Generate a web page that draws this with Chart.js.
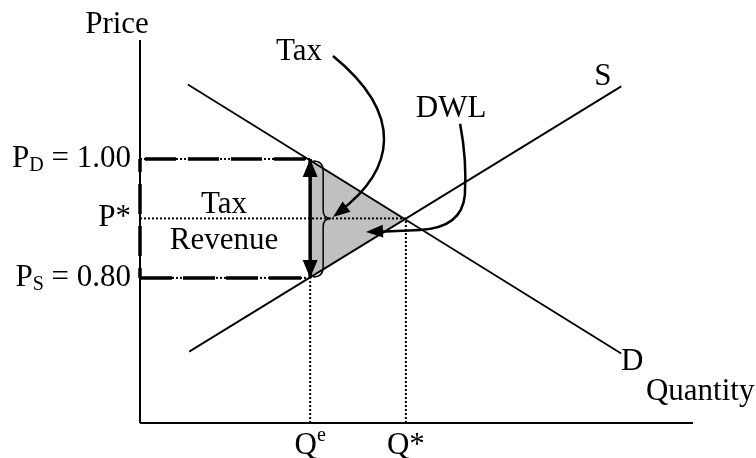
<!DOCTYPE html>
<html>
<head>
<meta charset="utf-8">
<script src="https://cdn.jsdelivr.net/npm/chart.js@4/dist/chart.umd.min.js"></script>
<style>
html, body { margin: 0; padding: 0; background: #fff; }
#wrap { width: 756px; height: 458px; position: relative; }
</style>
</head>
<body>
<div id="wrap"><canvas id="taxChart"></canvas></div>
<script>
// axis ranges (quantity, price)
const qRange = [0, 20.8];
const pRange = [0.556, 1.2];

// demand and supply lines
const demandQ = [1.8, 18.1];
const demandP = [1.125, 0.673];
const supplyQ = [1.85, 18.1];
const supplyP = [0.676, 1.122];

// key values
const qTax = 6.4;     // Qe
const qStar = 10;     // Q*
const pBuyer = 1.00;  // PD
const pStar = 0.90;   // P*
const pSeller = 0.80; // PS

// tick labels (_x = subscript, ^x = superscript)
const priceTicks = [1.00, 0.90, 0.80];
const priceTickLabels = ['P_D = 1.00', 'P*', 'P_S = 0.80'];
const qtyTicks = [6.4, 10];
const qtyTickLabels = ['Q^e', 'Q*'];

const FONT = "'Liberation Serif', 'Times New Roman', serif";

function pts(xs, ys) {
  return xs.map((x, i) => ({ x: x, y: ys[i] }));
}

function line(data, width, dash, extra) {
  return Object.assign({
    data: data,
    borderColor: '#000',
    borderWidth: width,
    borderDash: dash || [],
    pointRadius: 0,
    fill: false,
    tension: 0,
    clip: false
  }, extra || {});
}

const datasets = [
  // axes
  line(pts([0, 0], pRange), 2),
  line(pts(qRange, [pRange[0], pRange[0]]), 2),
  // demand / supply
  line(pts(demandQ, demandP), 1.8),
  line(pts(supplyQ, supplyP), 1.8),
  // tax revenue box (thick dashed)
  line(pts([0, qTax], [pBuyer, pBuyer]), 3.5, [31, 12], { borderDashOffset: 38 }),
  line(pts([0, qTax], [pSeller, pSeller]), 3.5, [32, 11]),
  line(pts([0, 0], [pSeller, pBuyer]), 3.5, [30, 12], { borderDashOffset: 20 }),
  // dotted guides
  line(pts([0, qTax], [pBuyer, pBuyer]), 2, [2, 2]),
  line(pts([0, qTax], [pSeller, pSeller]), 2, [2, 2]),
  line(pts([0, qStar], [pStar, pStar]), 2, [2, 2]),
  line(pts([qTax, qTax], [pRange[0], pSeller]), 2, [2, 2]),
  line(pts([qStar, qStar], [pRange[0], pStar]), 2, [2, 2]),
  // tax arrow shaft
  line(pts([qTax, qTax], [pSeller, pBuyer]), 3.5),
  // deadweight loss triangle
  line(pts([qTax, qStar, qTax, qTax], [pBuyer, pStar, pSeller, pBuyer]), 0, [],
    { fill: 'shape', backgroundColor: '#c0c0c0' })
];

// curved arrows in data units
const taxArrow = [[7.26, 1.173], [9.97, 1.074], [9.59, 0.982], [7.26, 0.9025]];
const dwlArrow = [[12.04, 1.059], [12.30, 0.998], [12.22, 0.9395], [12.11, 0.884], [10.53, 0.8807], [8.50, 0.8773]];

// free text labels in data units
const labels = [
  { t: 'Tax', q: 5.98, p: 1.1664, a: 'center' },
  { t: 'DWL', q: 11.70, p: 1.0706, a: 'center' },
  { t: 'S', q: 17.41, p: 1.1244, a: 'center' },
  { t: 'D', q: 18.51, p: 0.6454, a: 'center' },
  { t: 'Quantity', q: 19.03, p: 0.595, a: 'left' },
  { t: 'Tax', q: 3.16, p: 0.9092, a: 'center' },
  { t: 'Revenue', q: 3.16, p: 0.8487, a: 'center' }
];

function parts(str) {
  const out = [];
  let buf = '';
  for (let i = 0; i < str.length; i++) {
    const c = str[i];
    if ((c === '_' || c === '^') && i + 1 < str.length) {
      if (buf) out.push({ s: buf, k: 'n' });
      buf = '';
      out.push({ s: str[i + 1], k: c === '_' ? 'sub' : 'sup' });
      i++;
    } else {
      buf += c;
    }
  }
  if (buf) out.push({ s: buf, k: 'n' });
  return out;
}

function richText(ctx, str, x, y, align) {
  const segs = parts(str);
  const big = '31px ' + FONT, small = '20px ' + FONT;
  let w = 0;
  segs.forEach(s => {
    ctx.font = s.k === 'n' ? big : small;
    s.w = ctx.measureText(s.s).width;
    w += s.w;
  });
  let cx = align === 'right' ? x - w : align === 'center' ? x - w / 2 : x;
  ctx.textAlign = 'left';
  ctx.textBaseline = 'alphabetic';
  segs.forEach(s => {
    ctx.font = s.k === 'n' ? big : small;
    const dy = s.k === 'sub' ? 4 : s.k === 'sup' ? -13 : 0;
    ctx.fillText(s.s, cx, y + dy);
    cx += s.w;
  });
}

function head(ctx, tx, ty, fx, fy, len, half) {
  const a = Math.atan2(ty - fy, tx - fx);
  const c = Math.cos(a), s = Math.sin(a);
  ctx.beginPath();
  ctx.moveTo(tx, ty);
  ctx.lineTo(tx - len * c + half * s, ty - len * s - half * c);
  ctx.lineTo(tx - len * c - half * s, ty - len * s + half * c);
  ctx.closePath();
  ctx.fill();
}

const annotations = {
  id: 'annotations',
  afterDatasetsDraw(chart) {
    const ctx = chart.ctx;
    const xs = chart.scales.x, ys = chart.scales.y;
    const X = v => xs.getPixelForValue(v);
    const Y = v => ys.getPixelForValue(v);
    const P = d => [X(d[0]), Y(d[1])];
    const area = chart.chartArea;
    ctx.save();
    ctx.fillStyle = '#000';
    ctx.strokeStyle = '#000';

    // double-headed tax arrow
    head(ctx, X(qTax), Y(pBuyer), X(qTax), Y(pSeller), 18, 7.5);
    head(ctx, X(qTax), Y(pSeller), X(qTax), Y(pBuyer), 18, 7.5);

    // brace
    const bx = X(qTax);
    const top = Y(pBuyer) + 2, mid = Y(pStar), bot = Y(pSeller) - 1;
    ctx.lineWidth = 1.5;
    ctx.beginPath();
    ctx.moveTo(bx + 3, top);
    ctx.quadraticCurveTo(bx + 13, top, bx + 13, top + 10);
    ctx.lineTo(bx + 13, mid - 8);
    ctx.quadraticCurveTo(bx + 13, mid, bx + 21, mid);
    ctx.quadraticCurveTo(bx + 13, mid, bx + 13, mid + 8);
    ctx.lineTo(bx + 13, bot - 10);
    ctx.quadraticCurveTo(bx + 13, bot, bx + 3, bot);
    ctx.stroke();

    // curved arrow from "Tax"
    const t = taxArrow.map(P);
    ctx.lineWidth = 2.5;
    ctx.beginPath();
    ctx.moveTo(t[0][0], t[0][1]);
    ctx.bezierCurveTo(t[1][0], t[1][1], t[2][0], t[2][1], t[3][0] + 6, t[3][1] - 5);
    ctx.stroke();
    head(ctx, t[3][0], t[3][1], t[2][0], t[2][1], 17, 6.5);

    // curved arrow from "DWL"
    const d = dwlArrow.map(P);
    ctx.beginPath();
    ctx.moveTo(d[0][0], d[0][1]);
    ctx.quadraticCurveTo(d[1][0], d[1][1], d[2][0], d[2][1]);
    ctx.quadraticCurveTo(d[3][0], d[3][1], d[4][0], d[4][1]);
    ctx.lineTo(d[5][0] + 8, d[5][1]);
    ctx.stroke();
    head(ctx, d[5][0], d[5][1], d[4][0], d[4][1] - 0.5, 17, 6.5);

    // text
    richText(ctx, 'Price', area.left - 23, area.top - 7, 'center');
    labels.forEach(l => richText(ctx, l.t, X(l.q), Y(l.p), l.a));
    priceTicks.forEach((v, i) => richText(ctx, priceTickLabels[i], area.left - 9, Y(v) + 8, 'right'));
    qtyTicks.forEach((v, i) => richText(ctx, qtyTickLabels[i], X(v), area.bottom + 31, 'center'));
    ctx.restore();
  }
};

new Chart(document.getElementById('taxChart'), {
  type: 'line',
  data: { datasets: datasets },
  options: {
    responsive: true,
    maintainAspectRatio: false,
    animation: false,
    layout: { padding: { left: 140, right: 63, top: 40, bottom: 35 } },
    plugins: { legend: { display: false }, tooltip: { enabled: false } },
    scales: {
      x: { type: 'linear', display: false, min: qRange[0], max: qRange[1] },
      y: { type: 'linear', display: false, min: pRange[0], max: pRange[1] }
    }
  },
  plugins: [annotations]
});
</script>
</body>
</html>
